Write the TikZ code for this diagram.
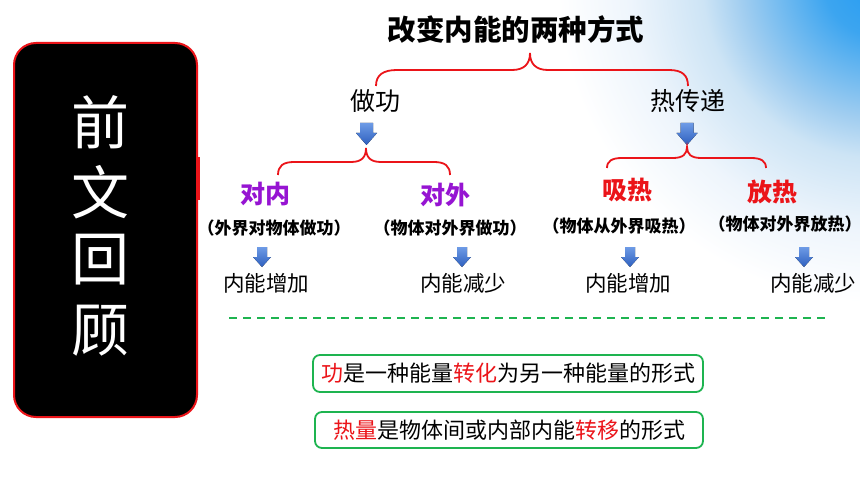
\documentclass[tikz,border=0pt]{standalone}
\usepackage{fontspec}
\newfontfamily\cjk{Noto Sans CJK SC}
\definecolor{brred}{RGB}{235,20,25}
\definecolor{vio}{RGB}{150,20,210}
\definecolor{grn}{RGB}{30,180,80}
\definecolor{arrtop}{RGB}{110,155,230}
\definecolor{arrbot}{RGB}{45,95,190}
\definecolor{gz}{RGB}{35,155,242}
\definecolor{ga}{RGB}{60,165,240}
\definecolor{gb}{RGB}{160,205,240}
\definecolor{gc}{RGB}{205,228,245}
\definecolor{gd}{RGB}{238,245,252}
\pgfdeclareradialshading{glow}{\pgfpoint{0bp}{0bp}}{color(0bp)=(gz); color(4.3bp)=(ga); color(10.5bp)=(gb); color(13.5bp)=(gc); color(19bp)=(gd); color(24.5bp)=(white); color(50bp)=(white)}
\newcommand\fsz[1]{\fontsize{#1}{#1}\selectfont}
\newcommand\bigdownarrow[1]{%
  \fill[top color=arrtop, bottom color=arrbot]
    ([shift={(-6.5,-11)}]#1) -- ([shift={(6.5,-11)}]#1) -- ([shift={(6.5,-1)}]#1)
    -- ([shift={(10.5,-1)}]#1) -- ([shift={(0,11)}]#1) -- ([shift={(-10.5,-1)}]#1)
    -- ([shift={(-6.5,-1)}]#1) -- cycle;}
\newcommand\smalldownarrow[1]{%
  \fill[top color=arrtop, bottom color=arrbot]
    ([shift={(-5,-10)}]#1) -- ([shift={(5,-10)}]#1) -- ([shift={(5,0)}]#1)
    -- ([shift={(9,0)}]#1) -- ([shift={(0,10)}]#1) -- ([shift={(-9,0)}]#1)
    -- ([shift={(-5,0)}]#1) -- cycle;}
\tikzset{
  txt/.style={font=\cjk, inner sep=0pt},
  titlestyle/.style={txt, font=\cjk\fsz{28.5}\bfseries},
  mode/.style={txt, font=\cjk\fsz{25}},
  sub/.style={txt, font=\cjk\fsz{25}\bfseries},
  paren/.style={txt, font=\cjk\fsz{17}\bfseries},
  result/.style={txt, font=\cjk\fsz{21.5}},
  phonetxt/.style={txt, font=\cjk\fsz{58}, text=white},
  brace/.style={brred, line width=1.8pt},
  infobox/.style={txt, font=\cjk\fsz{22}, draw=grn, line width=1.8pt,
    rounded corners=7pt, minimum width=390pt, minimum height=37pt},
}
\begin{document}
\begin{tikzpicture}[x=1pt,y=-1pt]
\useasboundingbox (0,0) rectangle (860,484);
\fill[white] (0,0) rectangle (860,484);
\begin{scope}
  \clip (0,0) rectangle (860,484);
  \shade[shading=glow] (880,-20) circle (330pt);
\end{scope}

% phone
\fill[brred] (195,157) rectangle (199.5,200);
\node[draw=brred, line width=2pt, fill=black, rounded corners=22pt,
  minimum width=183pt, minimum height=374pt, inner sep=0pt] (phone) at (105.5,230) {};
\node[phonetxt] (p1) at (100,122) {前};
\node[phonetxt] (p2) at (100,192) {文};
\node[phonetxt] (p3) at (100,260) {回};
\node[phonetxt] (p4) at (100,331) {顾};

% title
\node[titlestyle] (title) at (516,30) {改变内能的两种方式};

% top brace
\coordinate (tbL) at (376,86);
\coordinate (tbR) at (688,86);
\draw[brace] (tbL) .. controls (376,75) and (383,70) .. (397,70) -- (512,70)
  .. controls (524,70) and (530,64) .. (530,53)
  .. controls (530,64) and (536,70) .. (548,70) -- (669,70)
  .. controls (682,70) and (688,75) .. (tbR);

% level 1
\node[mode] (zg) at (375,101) {做功};
\node[mode] (rcd) at (688,101) {热传递};
\coordinate (a1) at (366.5,134);
\coordinate (a2) at (687,134);
\bigdownarrow{a1}
\bigdownarrow{a2}

% left brace
\coordinate (lbL) at (278,175);
\coordinate (lbR) at (450,175);
\draw[brace] (lbL) .. controls (278,166) and (283,162) .. (294,162) -- (351,162)
  .. controls (362,162) and (366,157) .. (366,148)
  .. controls (366,157) and (370,162) .. (381,162) -- (434,162)
  .. controls (445,162) and (450,166) .. (lbR);

% right brace
\coordinate (rbL) at (607,168);
\coordinate (rbR) at (766,168);
\draw[brace] (rbL) .. controls (607,161) and (612,158) .. (622,158) -- (673,158)
  .. controls (683,158) and (687,154) .. (687,147)
  .. controls (687,154) and (691,158) .. (701,158) -- (751,158)
  .. controls (761,158) and (766,161) .. (rbR);

% level 2
\node[sub, text=vio] (dn) at (265,194) {对内};
\node[sub, text=vio] (dw) at (445,195) {对外};
\node[sub, text=brred] (xr) at (627,190) {吸热};
\node[sub, text=brred] (fr) at (772,192) {放热};

\node[paren] (q1) at (274,228) {（外界对物体做功）};
\node[paren] (q2) at (450,228) {（物体对外界做功）};
\node[paren] (q3) at (619,226) {（物体从外界吸热）};
\node[paren] (q4) at (785,224) {（物体对外界放热）};

% level 3
\coordinate (s1) at (262,257);
\coordinate (s2) at (462,257);
\coordinate (s3) at (630,257);
\coordinate (s4) at (804,257);
\smalldownarrow{s1}
\smalldownarrow{s2}
\smalldownarrow{s3}
\smalldownarrow{s4}
\node[result] (r1) at (266,283) {内能增加};
\node[result] (r2) at (463,283) {内能减少};
\node[result] (r3) at (628,283) {内能增加};
\node[result] (r4) at (813,283) {内能减少};

% dashed separator
\coordinate (dl) at (229,318);
\coordinate (dr) at (830,318);
\draw[grn, line width=2pt, dash pattern=on 8pt off 6pt] (dl) -- (dr);

% boxes
\node[infobox] (b1) at (508,373.5) {{\color{brred}功}是一种能量{\color{brred}转化}为另一种能量的形式};
\node[infobox, minimum width=388pt, minimum height=36pt] (b2) at (509,430) {{\color{brred}热量}是物体间或内部内能{\color{brred}转移}的形式};
\end{tikzpicture}
\end{document}
